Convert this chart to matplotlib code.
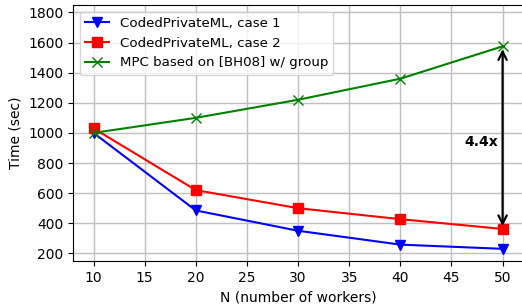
import matplotlib
matplotlib.use("Agg")
import matplotlib.pyplot as plt

N = [10, 20, 30, 40, 50]
case1 = [1000, 485, 350, 258, 230]
case2 = [1030, 620, 500, 427, 362]
mpc = [1000, 1100, 1220, 1360, 1575]
labels = ["CodedPrivateML, case 1", "CodedPrivateML, case 2", "MPC based on [BH08] w/ group"]

fig = plt.figure(figsize=(5.22, 3.08), dpi=100)
ax = fig.add_axes([0.14, 0.153, 0.862, 0.831])
ax.plot(N, case1, color="blue", marker="v", markersize=7, lw=1.5, label=labels[0])
ax.plot(N, case2, color="red", marker="s", markersize=7, lw=1.5, label=labels[1])
ax.plot(N, mpc, color="green", marker="x", markersize=7, lw=1.5, label=labels[2])
ax.annotate("", xy=(50, case2[-1]), xytext=(50, mpc[-1]),
            arrowprops=dict(arrowstyle="<->", color="black", lw=1.6, mutation_scale=15))
ax.text(47.9, 942, "4.4x", fontsize=10, fontweight="bold", ha="center", va="center")
ax.set_xlim(8, 52)
ax.set_ylim(150, 1850)
ax.set_xticks([10, 15, 20, 25, 30, 35, 40, 45, 50])
ax.set_yticks([200, 400, 600, 800, 1000, 1200, 1400, 1600, 1800])
ax.grid(True, color="#c0c0c0", lw=1)
ax.set_axisbelow(True)
ax.tick_params(labelsize=10)
ax.set_xlabel("N (number of workers)", fontsize=10)
ax.set_ylabel("Time (sec)", fontsize=10)
ax.legend(loc="upper left", fontsize=9.6, handlelength=1.8)
fig.savefig("out.png", dpi=100)
